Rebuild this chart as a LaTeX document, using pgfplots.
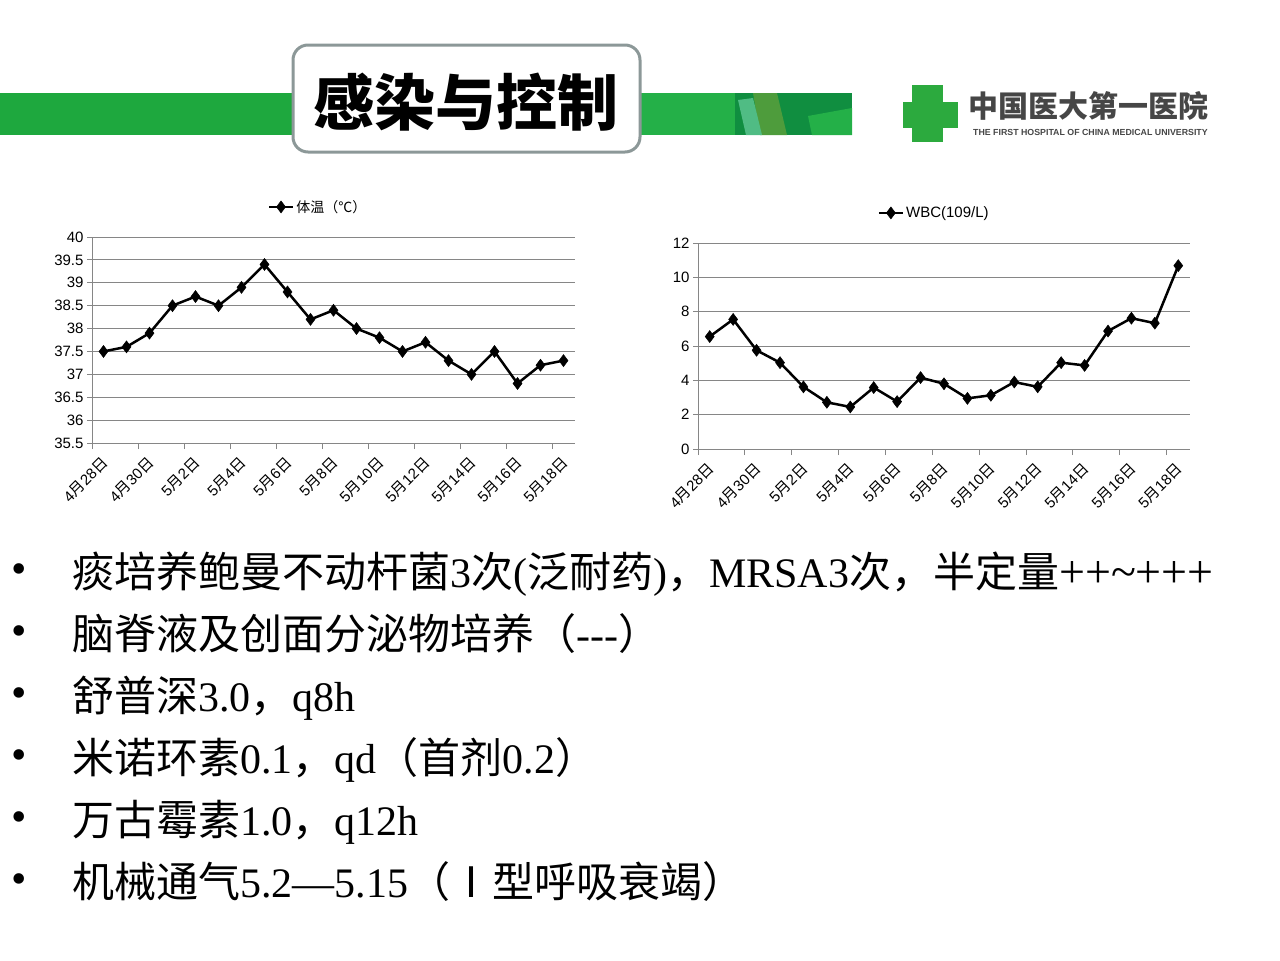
\documentclass[border=0pt]{standalone}
\usepackage{fontspec}
\setmainfont{Liberation Serif}
\newfontfamily\cjk{Noto Sans CJK SC}
\newfontfamily\sansf{Liberation Sans}
\usepackage{pgfplots}
\pgfplotsset{compat=1.18}

\definecolor{gridgray}{RGB}{134,134,134}
\definecolor{boxgray}{RGB}{140,152,152}
\definecolor{barGreen}{RGB}{30,168,62}
\definecolor{barDark}{RGB}{16,142,64}
\definecolor{barLight}{RGB}{80,188,132}
\definecolor{barOlive}{RGB}{78,156,60}
\definecolor{barMid}{RGB}{36,176,72}
\definecolor{logoGreen}{RGB}{44,170,62}
\definecolor{logoText}{RGB}{70,70,70}

\newcommand\md[2]{#1{\cjk 月}#2{\cjk 日}}

\pgfplotsset{
  legend image code/.code={\draw[mark repeat=2,mark phase=2,#1] plot coordinates {(0pt,0pt) (12pt,0pt) (24pt,0pt)};},
  slide chart/.style={
    scale only axis, height=206pt,
    axis x line*=bottom, axis y line*=left,
    axis line style={gridgray, line width=1pt},
    xmin=-0.5, xmax=20.5,
    xtick={0,2,4,6,8,10,12,14,16,18,20},
    xticklabels={\md{4}{28},\md{4}{30},\md{5}{2},\md{5}{4},\md{5}{6},\md{5}{8},\md{5}{10},\md{5}{12},\md{5}{14},\md{5}{16},\md{5}{18}},
    major x tick style={draw=none},
    minor xtick={-0.5,1.5,3.5,5.5,7.5,9.5,11.5,13.5,15.5,17.5,19.5},
    minor x tick style={gridgray, line width=1pt},
    y tick style={gridgray, line width=1pt},
    tick align=outside,
    minor tick length=6pt, major tick length=5pt,
    ymajorgrids, major grid style={gridgray, line width=1pt},
    tick label style={font=\sansf\fontsize{15}{16}\selectfont, black},
    /pgf/number format/assume math mode=true,
    x tick label style={yshift=-10pt, xshift=4pt, rotate=45, anchor=east, font=\sansf\fontsize{15}{16}\selectfont},
    legend style={draw=none, fill=none, anchor=center, legend cell align=left},
    clip=false,
  },
  temp line/.style={black, line width=2.5pt, mark=diamond*, mark size=6pt,
    mark options={solid, fill=black, line width=0.5pt}},
}

\begin{document}
\begin{tikzpicture}
\useasboundingbox (0pt,0pt) rectangle (1280pt,-961pt);

\begin{scope}[x=1pt, y=-1pt]
  % header bar
  \fill[barGreen] (0,93) rectangle (852,135);
  \fill[barMid] (640,93) rectangle (852,135);
  \fill[barDark] (735,93) rectangle (852,135);
  \fill[barOlive] (753,93) -- (777,93) -- (787,135) -- (760,135) -- cycle;
  \fill[barLight] (738,100) -- (753,98) -- (762,135) -- (746,135) -- cycle;
  \fill[barMid] (808,116) -- (852,108) -- (852,135) -- (812,135) -- cycle;
  \draw[boxgray, line width=3pt, fill=white, rounded corners=15pt] (293,45) rectangle (640,152);
  \node[font=\cjk\bfseries\fontsize{61}{66}\selectfont] at (466,102) {感染与控制};
  % logo
  \fill[logoGreen] (912,85) rectangle (943,142);
  \fill[logoGreen] (903,102) rectangle (958,128);
  \node[anchor=west, inner sep=0, text=logoText, font=\cjk\bfseries\fontsize{30}{32}\selectfont] at (968,106) {中国医大第一医院};
  \node[anchor=west, inner sep=0, text=logoText, font=\sansf\bfseries\fontsize{8.8}{9}\selectfont] at (973,132) {THE FIRST HOSPITAL OF CHINA MEDICAL UNIVERSITY};

  % bullet lines
  \foreach \yy in {587,649,711,773,835,897}
    \node[anchor=base, inner sep=0, font=\fontsize{44}{46}\selectfont] at (19,\yy-4) {•};
  \begin{scope}[every node/.style={anchor=base west, inner sep=0, font=\fontsize{42}{48}\selectfont}]
  \node at (72,587) {{\cjk 痰培养鲍曼不动杆菌}3{\cjk 次}({\cjk 泛耐药}){\cjk ，}MRSA3{\cjk 次，半定量}{\fontsize{46}{48}\selectfont ++\textasciitilde+++}};
  \node at (72,649) {{\cjk 脑脊液及创面分泌物培养（}-{}-{}-{\cjk ）}};
  \node at (72,711) {{\cjk 舒普深}3.0{\cjk ，}q8h};
  \node at (72,773) {{\cjk 米诺环素}0.1{\cjk ，}qd{\cjk （首剂}0.2{\cjk ）}};
  \node at (72,835) {{\cjk 万古霉素}1.0{\cjk ，}q12h};
  \node at (72,897) {{\cjk 机械通气}5.2—5.15{\cjk （Ⅰ型呼吸衰竭）}};
  \end{scope}
\end{scope}

% temperature chart
\begin{axis}[slide chart, at={(92pt,-443pt)}, anchor=south west, width=483pt,
  ymin=35.5, ymax=40, ytick={35.5,36,36.5,37,37.5,38,38.5,39,39.5,40},
  legend style={at={(0.468,1.146)}, font=\cjk\fontsize{14}{16}\selectfont}]
\addplot[temp line] coordinates {
  (0,37.5) (1,37.6) (2,37.9) (3,38.5) (4,38.7) (5,38.5) (6,38.9) (7,39.4)
  (8,38.8) (9,38.2) (10,38.4) (11,38.0) (12,37.8) (13,37.5) (14,37.7)
  (15,37.3) (16,37.0) (17,37.5) (18,36.8) (19,37.2) (20,37.3)
};
\addlegendentry{体温（℃）}
\end{axis}

% WBC chart
\begin{axis}[slide chart, at={(698pt,-449pt)}, anchor=south west, width=492pt,
  ymin=0, ymax=12, ytick={0,2,4,6,8,10,12},
  legend style={at={(0.48,1.146)}, font=\sansf\fontsize{15}{16}\selectfont}]
\addplot[temp line] coordinates {
  (0,6.55) (1,7.55) (2,5.75) (3,5.03) (4,3.62) (5,2.72) (6,2.45) (7,3.58)
  (8,2.76) (9,4.16) (10,3.8) (11,2.95) (12,3.13) (13,3.9) (14,3.62)
  (15,5.03) (16,4.87) (17,6.87) (18,7.62) (19,7.33) (20,10.68)
};
\addlegendentry{WBC(109/L)}
\end{axis}
\end{tikzpicture}
\end{document}
